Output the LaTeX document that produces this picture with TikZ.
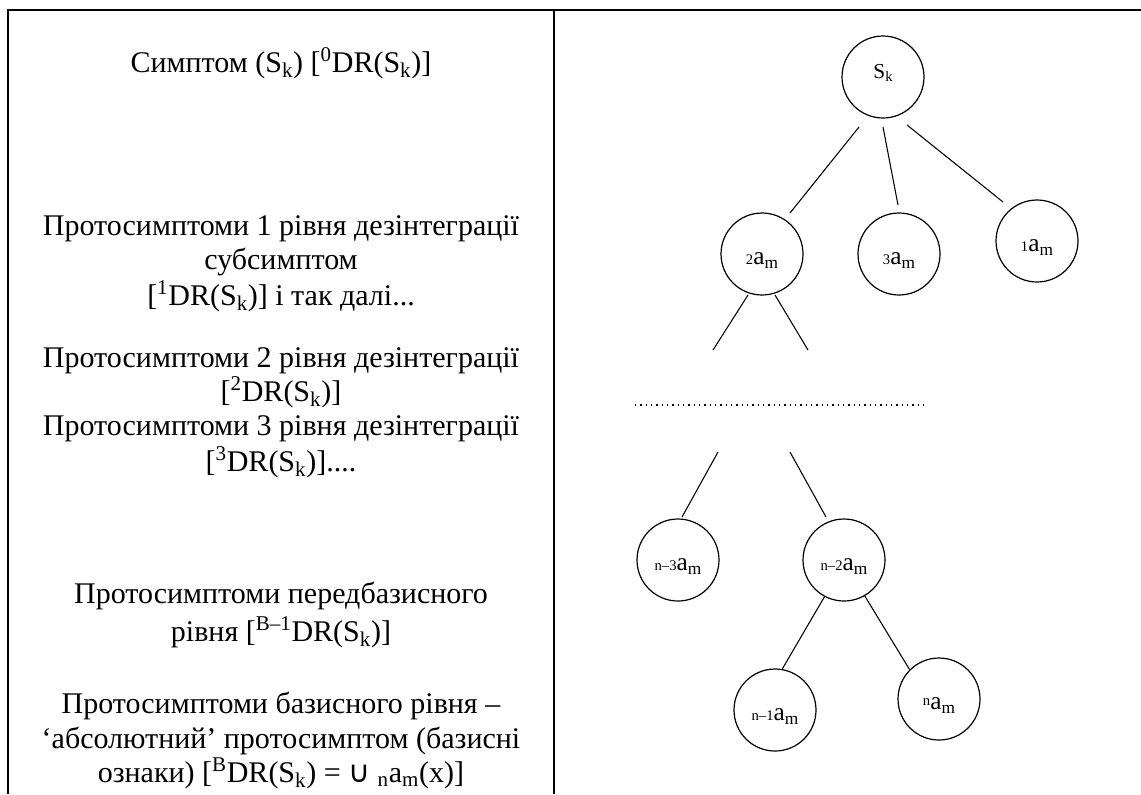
\documentclass[tikz,border=0pt]{standalone}
\usepackage{fontspec}
\setmainfont{Liberation Serif}
\newfontfamily\symfont{DejaVu Sans}
\newcommand{\mysub}[1]{\textsubscript{#1}}
\newcommand{\mysup}[1]{\textsuperscript{#1}}
\newcommand{\pre}[1]{{\fontsize{11}{11}\selectfont #1}}
\newcommand{\low}[1]{\raisebox{-5pt}[\height][\depth]{#1}}
\newcommand{\high}[1]{\raisebox{3pt}[\height][\depth]{#1}}
\newcommand{\am}[1]{\low{\pre{#1}{\fontsize{19}{19}\selectfont a}{\fontsize{13}{13}\selectfont\raisebox{-2.5pt}{m}}}}
\begin{document}
\begin{tikzpicture}[x=0.75pt,y=-0.75pt,
  frame/.style={line width=1.5pt},
  txt/.style={anchor=base,inner sep=0pt,font=\fontsize{22.5}{27}\selectfont},
  circ/.style={circle,draw,line width=0.9pt,minimum size=61.5pt,inner sep=0pt},
  edgeline/.style={line width=0.8pt},
  dots/.style={line width=1pt,dash pattern=on 0.9pt off 3.1pt}]
\useasboundingbox (0,0) rectangle (1141,794);
\draw[frame] (8,794) -- (8,10) -- (1141,10);
\draw[frame] (554,10) -- (554,794);
% left column text
\node[txt] (t1) at (281,72) {Симптом (S\mysub{k}) [\mysup{0}DR(S\mysub{k})]};
\node[txt] (t2) at (281,235) {Протосимптоми 1 рівня дезінтеграції};
\node[txt] (t3) at (281,269) {субсимптом};
\node[txt] (t4) at (281,305) {[\mysup{1}DR(S\mysub{k})] і так далі...};
\node[txt] (t5) at (281,367) {Протосимптоми 2 рівня дезінтеграції};
\node[txt] (t6) at (281,401) {[\mysup{2}DR(S\mysub{k})]};
\node[txt] (t7) at (281,435) {Протосимптоми 3 рівня дезінтеграції};
\node[txt] (t8) at (281,471) {[\mysup{3}DR(S\mysub{k})]....};
\node[txt] (t9) at (281,603) {Протосимптоми передбазисного};
\node[txt] (t10) at (281,641) {рівня [\mysup{B–1}DR(S\mysub{k})]};
\node[txt] (t11) at (281,713) {Протосимптоми базисного рівня –};
\node[txt] (t12) at (281,748) {‘абсолютний’ протосимптом (базисні};
\node[txt] (t13) at (281,782) {ознаки) [\mysup{B}DR(S\mysub{k}) = {\symfont ∪} \mysub{n}a\mysub{m}(x)]};
% tree
\node[circ] (S) at (883,77) {\high{{\fontsize{16}{16}\selectfont S}{\fontsize{11}{11}\selectfont\raisebox{-2pt}{k}}}};
\node[circ] (A2) at (762,254) {\am{2}};
\node[circ] (A3) at (899,254) {\am{3}};
\node[circ] (A1) at (1037,241) {\am{1}};
\node[circ] (N3) at (678,560) {\am{n–3}};
\node[circ] (N2) at (844,560) {\am{n–2}};
\node[circ] (N1) at (775,710) {\am{n–1}};
\node[circ] (N) at (939,699) {\low{{\fontsize{11}{11}\selectfont\raisebox{3pt}{n}}{\fontsize{19}{19}\selectfont a}{\fontsize{13}{13}\selectfont\raisebox{-2.5pt}{m}}}};
% free line ends
\coordinate (s1) at (859,127); \coordinate (s1e) at (790,213);
\coordinate (s2) at (883,127); \coordinate (s2e) at (898,205);
\coordinate (s3) at (907,125); \coordinate (s3e) at (1003,202);
\coordinate (a1) at (748,295); \coordinate (a1e) at (713,350);
\coordinate (a2) at (775,295); \coordinate (a2e) at (808,350);
\coordinate (d1) at (635,405); \coordinate (d2) at (925,405);
\coordinate (u1) at (718,452); \coordinate (u1e) at (682,517);
\coordinate (u2) at (790,452); \coordinate (u2e) at (826,517);
\draw[edgeline] (s1) -- (s1e);
\draw[edgeline] (s2) -- (s2e);
\draw[edgeline] (s3) -- (s3e);
\draw[edgeline] (a1) -- (a1e);
\draw[edgeline] (a2) -- (a2e);
\draw[dots] (d1) -- (d2);
\draw[edgeline] (u1) -- (u1e);
\draw[edgeline] (u2) -- (u2e);
\draw[edgeline] (N2.242) -- (N1.80);
\draw[edgeline] (N2.300) -- (N.135);
\end{tikzpicture}
\end{document}
